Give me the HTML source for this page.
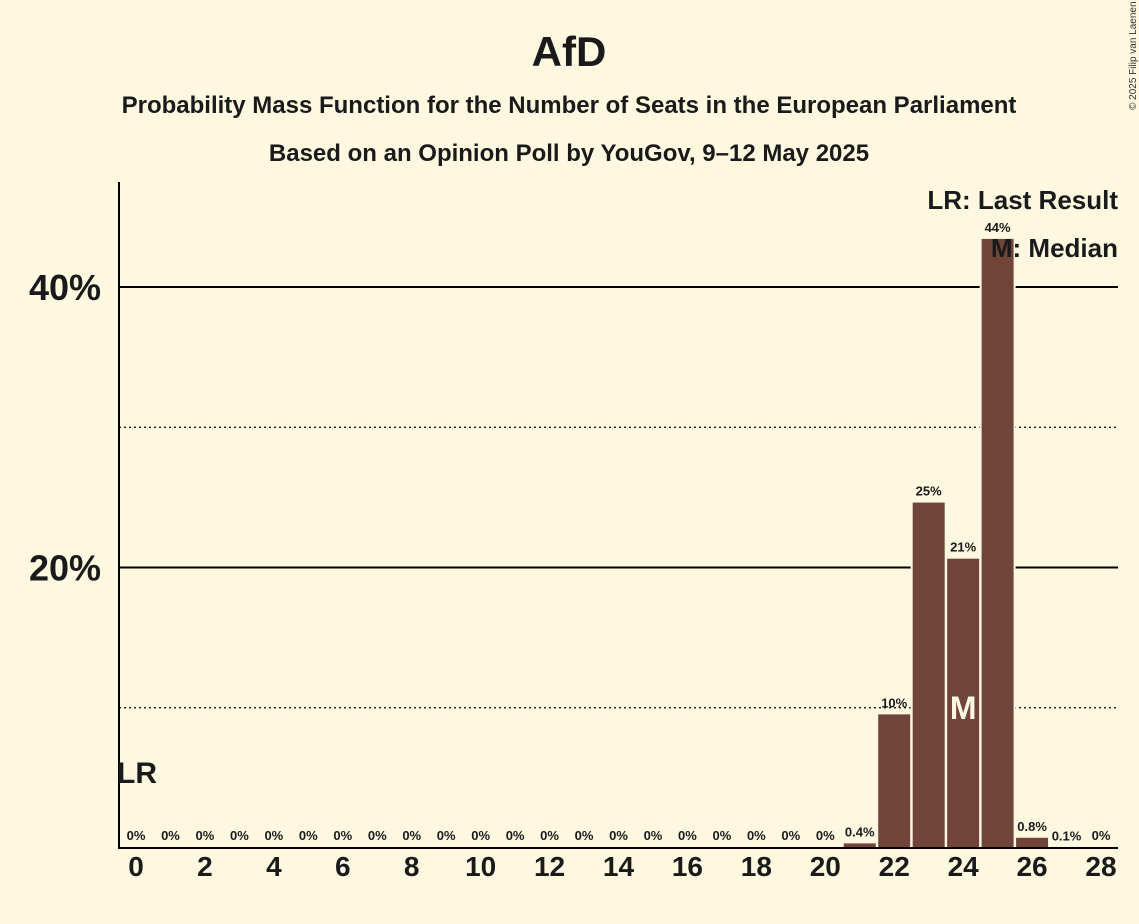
<!DOCTYPE html>
<html><head><meta charset="utf-8"><style>
body{margin:0;background:#fff8e1;}
svg{display:block;font-family:"Liberation Sans",sans-serif;font-weight:bold;}
</style></head><body>
<svg id="chart" width="1139" height="924" viewBox="0 0 1139 924" xmlns="http://www.w3.org/2000/svg">
<rect width="1139" height="924" fill="#fff8e1"/>
<text x="569" y="66" text-anchor="middle" font-size="42" fill="#1a1a1a">AfD</text>
<text x="569" y="113" text-anchor="middle" font-size="24" fill="#1a1a1a">Probability Mass Function for the Number of Seats in the European Parliament</text>
<text x="569" y="161" text-anchor="middle" font-size="24" fill="#1a1a1a">Based on an Opinion Poll by YouGov, 9–12 May 2025</text>
<text transform="translate(1136,110) rotate(-90)" font-size="10" font-weight="normal" fill="#333">© 2025 Filip van Laenen</text>
<g id="grid"></g>
<g id="bars"></g>
<g id="labels"></g>
<line x1="119" y1="182" x2="119" y2="848" stroke="#000" stroke-width="2"/>
<line x1="118" y1="848" x2="1118" y2="848" stroke="#000" stroke-width="2"/>
<text x="137" y="783" text-anchor="middle" font-size="30" fill="#1a1a1a">LR</text>
<text x="1118" y="209" text-anchor="end" font-size="26" fill="#1a1a1a">LR: Last Result</text>
<text x="1118" y="257" text-anchor="end" font-size="26" fill="#1a1a1a">M: Median</text>
</svg>
<script>
const seats=[0,1,2,3,4,5,6,7,8,9,10,11,12,13,14,15,16,17,18,19,20,21,22,23,24,25,26,27,28];
const probs=[0,0,0,0,0,0,0,0,0,0,0,0,0,0,0,0,0,0,0,0,0,0.4,9.6,24.7,20.7,43.5,0.8,0.1,0];
const valueLabels=["0%","0%","0%","0%","0%","0%","0%","0%","0%","0%","0%","0%","0%","0%","0%","0%","0%","0%","0%","0%","0%","0.4%","10%","25%","21%","44%","0.8%","0.1%","0%"];
const yTicks=[20,40];
const yMinor=[10,30];
const medianSeat=24;
const NS="http://www.w3.org/2000/svg";
const xS=s=>136+s*(1101-136)/28;
const yS=v=>848-v*(848-287)/40;
function mk(t,a,p){const e=document.createElementNS(NS,t);for(const k in a)e.setAttribute(k,a[k]);p.appendChild(e);return e;}
const grid=document.getElementById('grid'),bars=document.getElementById('bars'),labels=document.getElementById('labels');
yMinor.forEach(v=>{const l=mk('line',{x1:119,x2:1118,y1:yS(v),y2:yS(v),stroke:'#000','stroke-width':1.3,'stroke-dasharray':'2,3'},grid);

});
yTicks.forEach(v=>{const l=mk('line',{x1:119,x2:1118,y1:yS(v),y2:yS(v),stroke:'#000','stroke-width':2},grid);


const t=mk('text',{x:101,y:yS(v)+13,'text-anchor':'end','font-size':36,fill:'#1a1a1a'},labels);t.textContent=v+'%';

});
seats.forEach((s,i)=>{const p=probs[i];const x=xS(s);
if(p>0){const r=mk('rect',{x:x-17,y:yS(p),width:34,height:848-yS(p),fill:'#704538',stroke:'#fff8e1','stroke-width':2},bars);

}
const t=mk('text',{x:x,y:(p>0?yS(p)-6:840),'text-anchor':'middle','font-size':13,fill:'#1a1a1a'},labels);t.textContent=valueLabels[i];


if(s%2===0){const tl=mk('text',{x:x,y:876,'text-anchor':'middle','font-size':28,fill:'#1a1a1a'},labels);tl.textContent=s;

}
if(s===medianSeat){const m=mk('text',{x:x,y:719,'text-anchor':'middle','font-size':32,fill:'#fff8e1'},labels);m.textContent='M';

}
});
</script>
</body></html>
